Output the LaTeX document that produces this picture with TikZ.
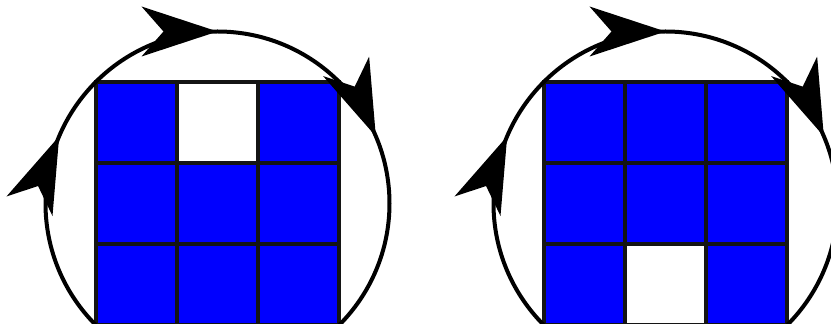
\documentclass[tikz,border=0pt]{standalone}
\definecolor{cellblue}{RGB}{0,0,255}
\definecolor{cellline}{RGB}{20,20,20}
\begin{document}
\begin{tikzpicture}[x=1pt,y=1pt,
  cell/.style={draw=cellline, line width=3.8pt},
  ring/.style={draw=black, line width=4pt},
  arrowhead/.style={fill=black}]
\useasboundingbox (0,0) rectangle (831,324);
\clip (0,0) rectangle (831,324);
\foreach \cx/\wr in {217.5/0, 665.5/2} {
  \begin{scope}[shift={(\cx,120.5)}]
    \foreach \r in {0,1,2} {
      \foreach \c in {0,1,2} {
        \filldraw[cell, fill=cellblue] ({-121.5+81*\c},{121.5-81*\r}) rectangle ++(81,-81);
      }
    }
    \filldraw[cell, fill=white] (-40.5,{121.5-81*\wr}) rectangle ++(81,-81);
    \draw[ring] (0,0) circle[radius=172pt];
    \foreach \a in {157,90,23} {
      \fill[arrowhead, shift={(\a:172pt)}, rotate=\a-90]
        (0,0) -- (-76,25) -- (-54,0) -- (-76,-25) -- cycle;
    }
  \end{scope}
}
\end{tikzpicture}
\end{document}
